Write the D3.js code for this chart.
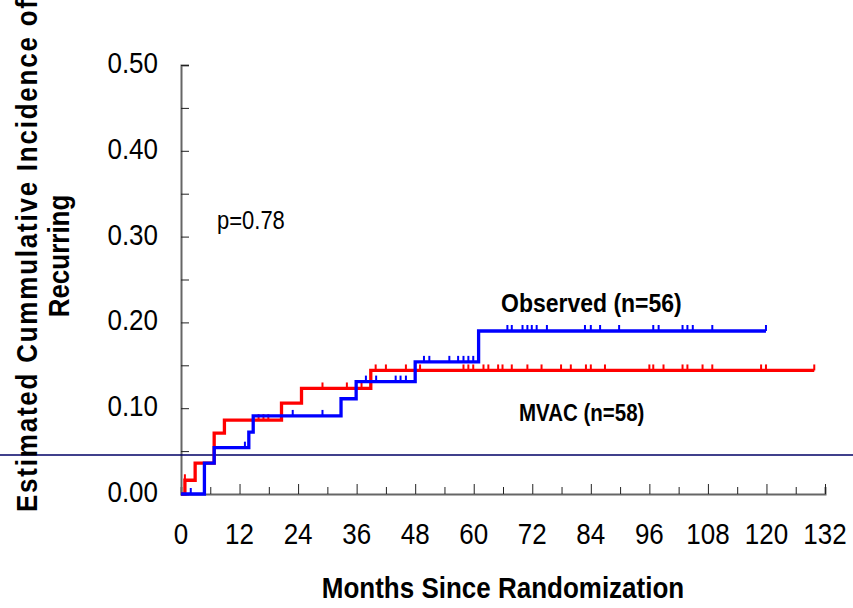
<!DOCTYPE html>
<html>
<head>
<meta charset="utf-8">
<script src="https://cdn.jsdelivr.net/npm/d3@7"></script>
<style>
  body { margin: 0; background: #fff; }
  svg { display: block; font-family: "Liberation Sans", Arial, sans-serif; }
</style>
</head>
<body>
<div id="chart"></div>
<script>
// step curve data (months, cumulative incidence)
var observedTimes  = [0, 4.8, 6.8, 13.9, 14.8, 32.8, 35.9, 48.0, 61.0, 119.9];
var observedValues = [0, 0.036, 0.054, 0.072, 0.091, 0.111, 0.131, 0.154, 0.190, 0.190];
var observedCensor = [2.0, 13.1, 22.9, 29.0, 37.9, 40.0, 44.0, 45.0, 46.1, 49.8, 50.9, 55.0, 56.8,
  57.9, 58.9, 59.9, 66.9, 67.8, 70.0, 71.0, 71.9, 72.9, 75.0, 82.8, 84.0, 85.9, 89.8, 96.8, 97.9,
  102.8, 103.8, 104.9, 108.9, 119.9];

var mvacTimes  = [0, 0.8, 2.9, 6.8, 8.9, 20.6, 24.7, 38.9, 129.8];
var mvacValues = [0, 0.016, 0.036, 0.071, 0.086, 0.106, 0.123, 0.144, 0.144];
var mvacCensor = [0.8, 15.9, 16.9, 17.9, 29.0, 34.0, 37.0, 39.9, 42.0, 46.1, 49.0, 57.9, 58.9, 59.9,
  62.0, 63.0, 65.0, 65.9, 67.8, 71.0, 73.9, 77.9, 79.9, 83.0, 84.0, 86.9, 96.0, 96.8, 98.9, 102.8,
  103.8, 106.9, 108.9, 118.9, 119.9, 129.8];

var xTickValues = [0, 12, 24, 36, 48, 60, 72, 84, 96, 108, 120, 132];
var yTickValues = [0, 0.1, 0.2, 0.3, 0.4, 0.5];

var width = 853, height = 608;
var margin = {top: 65, right: 28, bottom: 114, left: 181};
var stretch = 1.15; // the original lettering is a little taller than Arial

var svg = d3.select("#chart").append("svg")
  .attr("width", width)
  .attr("height", height);

var x = d3.scaleLinear().domain([0, 132]).range([margin.left, width - margin.right]);
var y = d3.scaleLinear().domain([0, 0.5]).range([height - margin.bottom, margin.top]);

// text placed at a baseline point, stretched vertically
function label(px, py, str, size, weight, anchor) {
  return svg.append("text")
    .attr("transform", `translate(${px},${py}) scale(1,${stretch})`)
    .attr("text-anchor", anchor || "start")
    .style("font-size", size + "px")
    .style("font-weight", weight || "normal")
    .text(str);
}

// x axis: minor ticks every 6 months, labelled every 12
var xAxis = d3.axisTop(x)
  .tickValues(d3.range(0, 133, 6))
  .tickSize(7)
  .tickFormat("");

var gx = svg.append("g")
  .attr("transform", `translate(0,${y(0)})`)
  .call(xAxis);
gx.select(".domain").attr("stroke", "#666").attr("stroke-width", 2);
gx.selectAll(".tick line")
  .attr("stroke", "#222")
  .attr("y2", d => d % 12 == 0 ? -10 : -7);

xTickValues.forEach(d => label(x(d), y(0) + 50, d, 26, "normal", "middle"));

var yAxis = d3.axisRight(y)
  .tickValues(d3.range(0, 0.501, 0.05))
  .tickSize(8)
  .tickFormat("");

var gy = svg.append("g")
  .attr("transform", `translate(${x(0)},0)`)
  .call(yAxis);
gy.select(".domain").attr("stroke", "#666").attr("stroke-width", 2);
gy.selectAll(".tick line").attr("stroke", "#222");

yTickValues.forEach(d => label(x(0) - 23, y(d) + 8, d3.format(".2f")(d), 26, "normal", "end"));

// stray horizontal rule across the figure
svg.append("line")
  .attr("x1", 0).attr("x2", width)
  .attr("y1", 455).attr("y2", 455)
  .attr("stroke", "#000066")
  .attr("stroke-width", 1.3);

function stepValue(times, values, t) {
  var i = d3.bisectRight(times, t) - 1;
  return values[Math.max(0, i)];
}

function drawSeries(times, values, censor, colour) {
  var pts = times.map((t, i) => [t, values[i]]);
  var line = d3.line()
    .x(d => x(d[0]))
    .y(d => y(d[1]))
    .curve(d3.curveStepAfter);

  svg.append("path")
    .datum(pts)
    .attr("fill", "none")
    .attr("stroke", colour)
    .attr("stroke-width", 3.3)
    .attr("d", line);

  svg.append("g").selectAll("line")
    .data(censor)
    .enter().append("line")
      .attr("x1", d => x(d)).attr("x2", d => x(d))
      .attr("y1", d => y(stepValue(times, values, d)))
      .attr("y2", d => y(stepValue(times, values, d)) - 6)
      .attr("stroke", colour)
      .attr("stroke-width", 2);
}

drawSeries(mvacTimes, mvacValues, mvacCensor, "#ff0000");
drawSeries(observedTimes, observedValues, observedCensor, "#0000ff");

label(217, 229, "p=0.78", 22);
label(501, 312, "Observed (n=56)", 23, "bold");
label(519, 421, "MVAC (n=58)", 20.5, "bold");
label(503, 598, "Months Since Randomization", 26, "bold", "middle");

var yTitle = svg.append("text")
  .attr("transform", `translate(37,256) rotate(-90) scale(1,${stretch})`)
  .attr("text-anchor", "middle")
  .style("font-size", "26px")
  .style("font-weight", "bold");
yTitle.append("tspan")
  .attr("x", 0).attr("y", 0)
  .attr("textLength", 512)
  .attr("lengthAdjust", "spacing")
  .text("Estimated Cummulative Incidence of");
yTitle.append("tspan")
  .attr("x", 0).attr("y", 28)
  .text("Recurring");
</script>
</body>
</html>
